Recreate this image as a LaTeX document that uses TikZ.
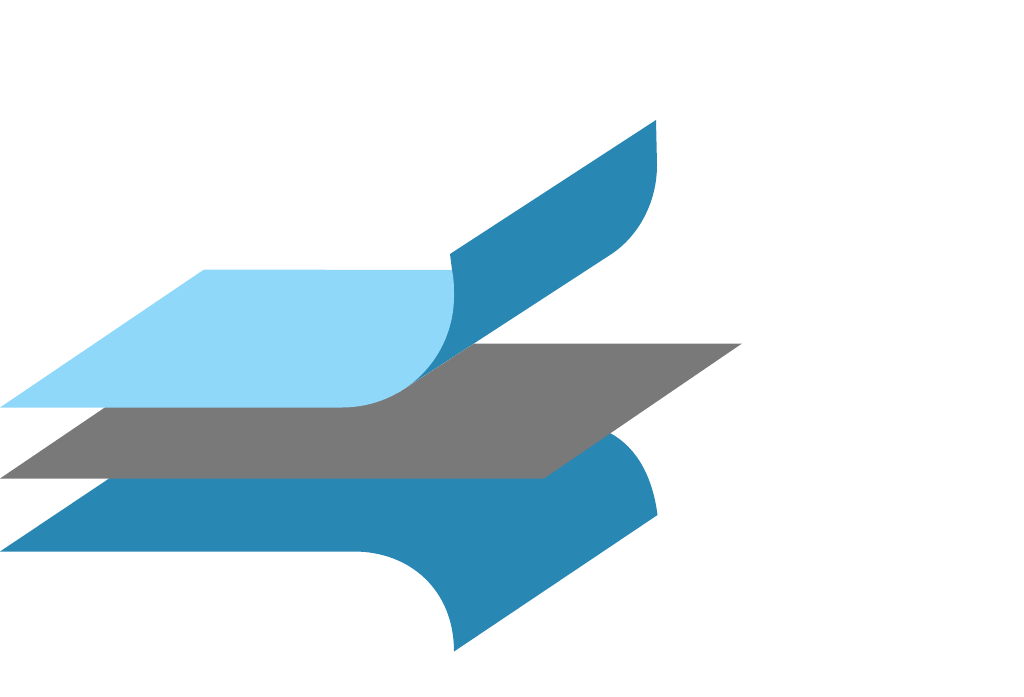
\documentclass[tikz,border=0pt]{standalone}
\usepackage{xcolor}
\definecolor{darkBlue}{rgb}{0.157,0.529,0.702}
\definecolor{lightBlue}{rgb}{0.565,0.847,0.980}
\definecolor{midGray}{rgb}{0.475,0.475,0.475}
\tikzset{
  layer/.style={
    draw=none,
    fill=#1
  }
}
\begin{document}
\begin{tikzpicture}[
    x=1pt,
    y=-1pt
  ]
  \useasboundingbox (0,0) rectangle (1024,696);
  \path[layer=darkBlue]
  (0,551.5) -- (204,415) -- (610,433)
  .. controls (638,448) and (653,479) .. (657.5,515)
  -- (454,651.5)
  .. controls (454,590) and (410,551.5) .. (354,551.5)
  -- cycle;
  \path[layer=darkBlue]
  (450,254) -- (656,120) -- (657,165)
  .. controls (657,203) and (638,237) .. (610,255)
  -- (390,398) -- (380,340) -- (452,270) -- cycle;
  \path[layer=midGray]
  (0,478.5) -- (110,404) -- (380,385) -- (398,393) -- (474,343.5)
  -- (742,343.5) -- (544,478.5) -- cycle;
  \path[layer=lightBlue]
  (0,407.5) -- (204,269.5) -- (452,270)
  .. controls (454,280) and (454,288) .. (454,296)
  .. controls (454,358) and (404,407.5) .. (342,407.5)
  -- cycle;
\end{tikzpicture}
\end{document}
